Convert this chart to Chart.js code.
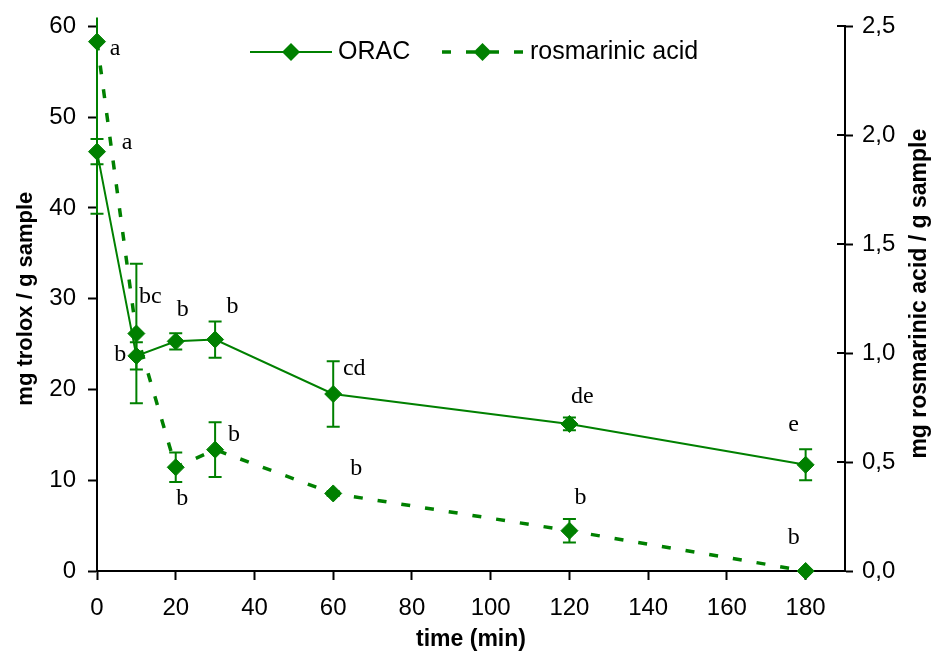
<!DOCTYPE html>
<html><head><meta charset="utf-8">
<script src="https://cdn.jsdelivr.net/npm/chart.js@4"></script>
<style>html,body{margin:0;padding:0;background:#fff;} canvas{display:block;}</style>
</head><body>
<canvas id="c" width="940" height="653"></canvas>
<script>
// ---- data ----
const times = [0, 10, 20, 30, 60, 120, 180];
const oracValues = [46.2, 23.7, 25.3, 25.5, 19.5, 16.2, 11.7];
const oracErrors = [1.4, 1.5, 0.9, 2.0, 3.6, 0.7, 1.7];
const oracLetters = ['a', 'b', 'b', 'b', 'cd', 'de', 'e'];
const rosmValues = [2.43, 1.09, 0.476, 0.557, 0.356, 0.185, 0.0];
const rosmErrors = [0.79, 0.32, 0.068, 0.126, 0.01, 0.054, 0.0];
const rosmLetters = ['a', 'bc', 'b', 'b', 'b', 'b', 'b'];
const xTickValues = [0, 20, 40, 60, 80, 100, 120, 140, 160, 180];
const leftTickValues = [0, 10, 20, 30, 40, 50, 60];
const rightTickValues = [0, 0.5, 1.0, 1.5, 2.0, 2.5];
const seriesNames = ['ORAC', 'rosmarinic acid'];
const axisTitles = { x: 'time (min)', left: 'mg trolox / g sample', right: 'mg rosmarinic acid / g sample' };

// ---- style / layout ----
const GREEN = '#008000';
const SANS = '"Liberation Sans", Arial, sans-serif';
const SERIF = '"Liberation Serif", "Times New Roman", serif';
const DASH = [9, 15];
const labelOffsets = {
  orac: [[30, -9], [-16, -1.5], [7, -32], [17.5, -33], [21, -25], [13, -27], [-12, -40]],
  rosm: [[18, 7], [14, -37], [6.5, 31], [19, -15], [23, -25], [11, -33], [-12, -33]]
};

const toPoints = (xs, ys) => xs.map((x, i) => ({ x: x, y: ys[i] }));

const errorBarPlugin = {
  id: 'errorBars',
  beforeDatasetsDraw(chart) {
    const ctx = chart.ctx, area = chart.chartArea;
    chart.data.datasets.forEach((ds, i) => {
      const meta = chart.getDatasetMeta(i);
      const ys = chart.scales[ds.yAxisID];
      ctx.save();
      ctx.strokeStyle = ds.borderColor; ctx.lineWidth = 2; ctx.setLineDash([]);
      meta.data.forEach((pt, j) => {
        const e = ds.errors[j];
        if (!e) return;
        const v = ds.data[j].y;
        let yTop = ys.getPixelForValue(v + e);
        const yBot = ys.getPixelForValue(v - e);
        const limit = area.top - 9;
        let topCap = true;
        if (yTop < limit) { yTop = limit; topCap = false; }
        const x = pt.x, hw = 6.5;
        ctx.beginPath();
        ctx.moveTo(x, yTop); ctx.lineTo(x, yBot);
        if (topCap) { ctx.moveTo(x - hw, yTop); ctx.lineTo(x + hw, yTop); }
        ctx.moveTo(x - hw, yBot); ctx.lineTo(x + hw, yBot);
        ctx.stroke();
      });
      ctx.restore();
    });
  }
};

const letterPlugin = {
  id: 'letters',
  afterDatasetsDraw(chart) {
    const ctx = chart.ctx;
    ctx.save();
    ctx.font = '24px ' + SERIF; ctx.fillStyle = '#000';
    ctx.textAlign = 'center'; ctx.textBaseline = 'middle';
    chart.data.datasets.forEach((ds, i) => {
      const meta = chart.getDatasetMeta(i);
      meta.data.forEach((pt, j) => {
        const off = ds.letterOffsets[j];
        ctx.fillText(ds.letters[j], pt.x + off[0], pt.y + off[1]);
      });
    });
    ctx.restore();
  }
};

const extrasPlugin = {
  id: 'extras',
  afterDraw(chart) {
    const ctx = chart.ctx, area = chart.chartArea;
    // inner ticks of right axis (cross ticks)
    const y1 = chart.scales.y1;
    ctx.save();
    ctx.strokeStyle = '#000'; ctx.lineWidth = 2;
    y1.ticks.forEach(t => {
      const p = Math.round(y1.getPixelForValue(t.value));
      ctx.beginPath(); ctx.moveTo(y1.left - 8, p); ctx.lineTo(y1.left, p); ctx.stroke();
    });
    ctx.restore();
    // right axis title, reading bottom-to-top
    ctx.save();
    ctx.translate(920, (area.top + area.bottom) / 2 - 5);
    ctx.rotate(-Math.PI / 2);
    ctx.fillStyle = '#000'; ctx.font = 'bold 23px ' + SANS;
    ctx.textAlign = 'center'; ctx.textBaseline = 'middle';
    ctx.fillText(axisTitles.right, 0, 0);
    ctx.restore();
    // legend
    const items = [
      { ds: chart.data.datasets[0], x0: 250, x1: 332, tx: 338 },
      { ds: chart.data.datasets[1], x0: 442, x1: 523, tx: 530 }
    ];
    const ly = 52;
    items.forEach(it => {
      ctx.save();
      ctx.strokeStyle = it.ds.borderColor; ctx.lineWidth = it.ds.borderWidth;
      ctx.setLineDash(it.ds.borderDash || []);
      ctx.beginPath(); ctx.moveTo(it.x0, ly); ctx.lineTo(it.x1, ly); ctx.stroke();
      ctx.setLineDash([]);
      const cx = (it.x0 + it.x1) / 2, r = 9;
      ctx.fillStyle = it.ds.pointBackgroundColor;
      ctx.beginPath(); ctx.moveTo(cx, ly - r); ctx.lineTo(cx + r, ly); ctx.lineTo(cx, ly + r); ctx.lineTo(cx - r, ly); ctx.closePath(); ctx.fill();
      ctx.fillStyle = '#000'; ctx.font = '25px ' + SANS; ctx.textAlign = 'left'; ctx.textBaseline = 'middle';
      ctx.fillText(it.ds.label, it.tx, ly);
      ctx.restore();
    });
  }
};

const fmtComma = v => v.toFixed(1).replace('.', ',');

new Chart(document.getElementById('c'), {
  type: 'line',
  data: {
    datasets: [
      {
        label: seriesNames[0], yAxisID: 'y',
        data: toPoints(times, oracValues), errors: oracErrors, letters: oracLetters, letterOffsets: labelOffsets.orac,
        borderColor: GREEN, borderWidth: 2, pointStyle: 'rectRot', pointRadius: 8.5, pointBorderWidth: 1,
        pointBackgroundColor: GREEN, pointBorderColor: GREEN, tension: 0, clip: false
      },
      {
        label: seriesNames[1], yAxisID: 'y1',
        data: toPoints(times, rosmValues), errors: rosmErrors, letters: rosmLetters, letterOffsets: labelOffsets.rosm,
        borderColor: GREEN, borderWidth: 3.5, borderDash: DASH, pointStyle: 'rectRot', pointRadius: 8.5, pointBorderWidth: 1,
        pointBackgroundColor: GREEN, pointBorderColor: GREEN, tension: 0, clip: false
      }
    ]
  },
  options: {
    responsive: false, animation: false, devicePixelRatio: 1,
    layout: { padding: { top: 25, left: 0, right: 0, bottom: 0 } },
    plugins: { legend: { display: false }, tooltip: { enabled: false } },
    scales: {
      x: {
        type: 'linear', position: 'bottom', min: 0, max: 190,
        afterBuildTicks: s => { s.ticks = xTickValues.map(v => ({ value: v })); },
        afterFit: s => { s.height = 82; },
        ticks: { font: { family: SANS, size: 24 }, color: '#000', padding: 14, maxRotation: 0, autoSkip: false },
        grid: { display: true, drawOnChartArea: false, drawTicks: true, tickLength: 9, tickWidth: 2, tickColor: '#000' },
        border: { display: true, color: '#000', width: 2 },
        title: { display: true, text: axisTitles.x, color: '#000', font: { family: SANS, size: 23, weight: 'bold', lineHeight: 1.2 }, padding: { top: 0, bottom: 0 } }
      },
      y: {
        type: 'linear', position: 'left', min: 0, max: 60,
        afterBuildTicks: s => { s.ticks = leftTickValues.map(v => ({ value: v })); },
        afterFit: s => { s.width = 97; },
        ticks: { font: { family: SANS, size: 24 }, color: '#000', padding: 12 },
        grid: { display: true, drawOnChartArea: false, drawTicks: true, tickLength: 9, tickWidth: 2, tickColor: '#000' },
        border: { display: true, color: '#000', width: 2 },
        title: { display: true, text: axisTitles.left, color: '#000', font: { family: SANS, size: 22, weight: 'bold', lineHeight: 1.2 }, padding: { top: 13, bottom: 0 } }
      },
      y1: {
        type: 'linear', position: 'right', min: 0, max: 2.5,
        afterBuildTicks: s => { s.ticks = rightTickValues.map(v => ({ value: v })); },
        afterFit: s => { s.width = 95; },
        ticks: { font: { family: SANS, size: 24 }, color: '#000', padding: 9, callback: v => fmtComma(v) },
        grid: { display: true, drawOnChartArea: false, drawTicks: true, tickLength: 8, tickWidth: 2, tickColor: '#000' },
        border: { display: true, color: '#000', width: 2 },
        title: { display: false }
      }
    }
  },
  plugins: [errorBarPlugin, letterPlugin, extrasPlugin]
});
</script>
</body></html>
